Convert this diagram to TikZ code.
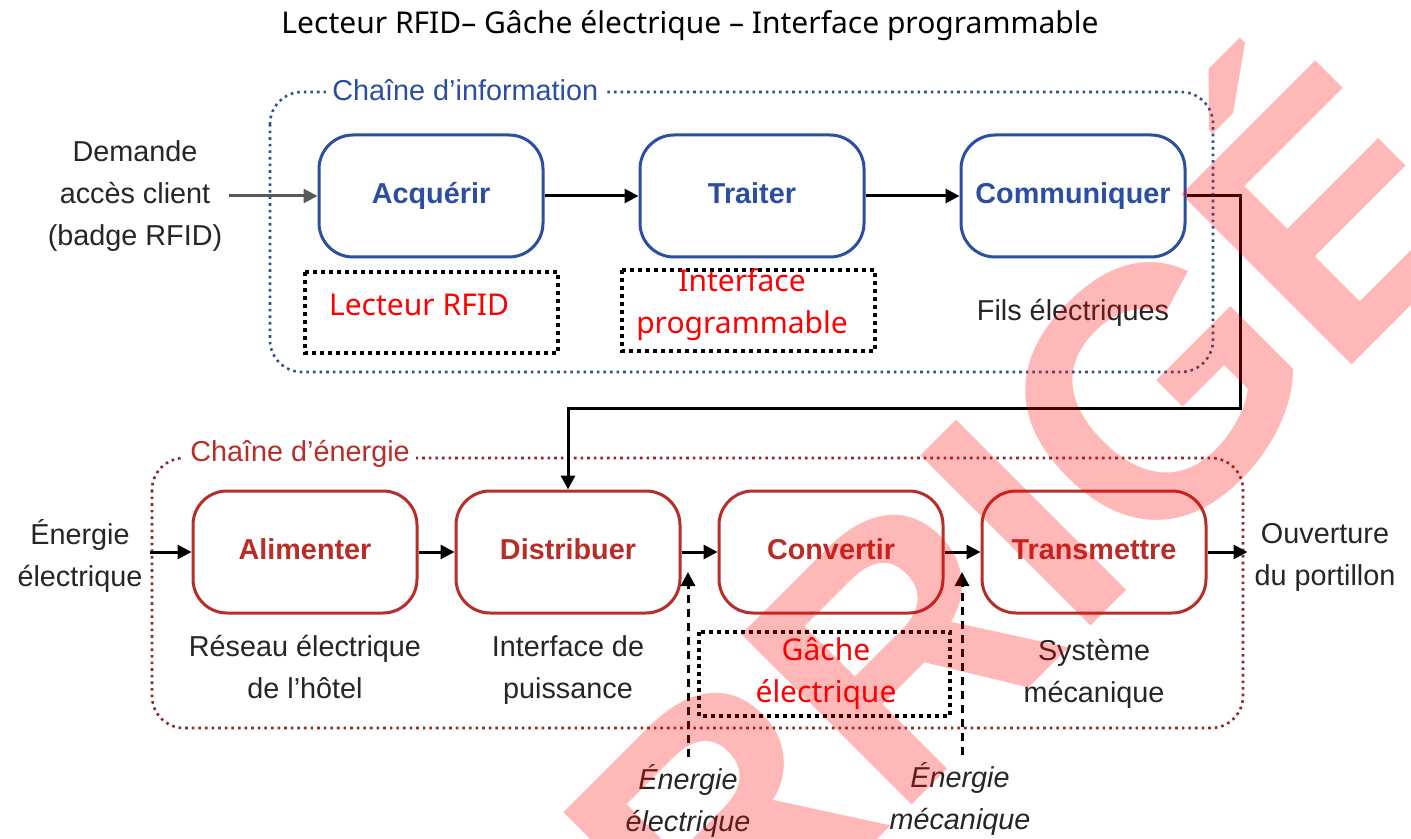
\documentclass[tikz,border=0pt]{standalone}
\usepackage{fontspec}
\setmainfont{Liberation Sans}
\newfontfamily\plexfont{Noto Sans}
\usetikzlibrary{arrows.meta,positioning,calc}

\definecolor{infoblue}{RGB}{44,78,160}
\definecolor{infodot}{RGB}{50,80,140}
\definecolor{enerred}{RGB}{185,45,40}
\definecolor{enerdot}{RGB}{140,40,40}

\tikzset{
  >={Triangle[length=7pt,width=7pt]},
  bloc/.style={rounded corners=17pt, line width=1.5pt, minimum width=112pt, minimum height=61pt, text height=10.5pt, text depth=3pt, font=\bfseries\fontsize{14.4}{16}\selectfont},
  blocinfo/.style={bloc, draw=infoblue, text=infoblue},
  blocener/.style={bloc, draw=enerred, text=enerred},
  chaine/.style={dotted, line width=1.3pt, rounded corners=16pt},
  cadre/.style={draw, line width=1.6pt, dash pattern=on 2pt off 2pt},
  support/.style={align=center, font=\fontsize{14.4}{21}\selectfont, text=black!85},
  rouge/.style={align=center, text=red, font=\plexfont\fontsize{15}{21}\selectfont},
  fleche/.style={->, line width=1.5pt},
}

\begin{document}
\begin{tikzpicture}[x=0.5pt,y=-0.5pt]

  \useasboundingbox (0,0) rectangle (1411,839);
  \fill[white] (0,0) rectangle (1411,839);

  \node[font=\plexfont\fontsize{15}{18}\selectfont] (titre) at (690,26) {Lecteur RFID– Gâche électrique – Interface programmable};

  % chaine d'information
  \draw[chaine, draw=infodot] (270,92) rectangle (1213,372);
  \node[fill=white, text=infoblue, anchor=west, inner sep=3pt, font=\fontsize{14.4}{16}\selectfont] (labinfo) at (326,90) {Chaîne d’information};

  \node[blocinfo] (acq) at (431,196) {Acquérir};
  \node[blocinfo, right=47pt of acq] (tra) {Traiter};
  \node[blocinfo, right=47pt of tra] (com) {Communiquer};

  \draw[cadre] (305,272) rectangle (558,353);
  \draw[cadre] (622,270) rectangle (875,351);
  \node[rouge] (lecteur) at (419,305) {Lecteur RFID};
  \node[rouge] (interface) at (742,305) {Interface\\programmable};
  \node[support, below=17pt of com] (fils) {Fils électriques};

  \node[support] (demande) at (135,196) {Demande\\accès client\\(badge RFID)};
  \draw[fleche, draw=black!65] (demande) -- (acq);
  \foreach \a/\b in {acq/tra,tra/com}{
    \draw[fleche] (\a) -- (\b);
  }

  % chaine d'energie
  \draw[chaine, draw=enerdot] (152,458) rectangle (1243,728);
  \node[fill=white, text=enerred, anchor=west, inner sep=3pt, font=\fontsize{14.4}{16}\selectfont] (labener) at (184,454) {Chaîne d’énergie};

  \node[blocener] (ali) at (305,552) {Alimenter};
  \node[blocener, right=18pt of ali] (dis) {Distribuer};
  \node[blocener, right=18pt of dis] (conv) {Convertir};
  \node[blocener, right=18pt of conv] (trans) {Transmettre};

  \node[support, below=7pt of ali] (reseau) {Réseau électrique\\de l’hôtel};
  \node[support, below=7pt of dis] (puiss) {Interface de\\puissance};
  \node[support, below=9pt of trans] (meca) {Système\\mécanique};
  \draw[cadre] (699,632) rectangle (950,716);
  \node[rouge] (gache) at (826,674) {Gâche\\électrique};

  \node[support] (eelec) at (80,556) {Énergie\\électrique};
  \node[support] (ouv) at (1325,557) {Ouverture\\du portillon};
  \draw[fleche] (eelec.east |- ali) -- (ali);
  \draw[fleche] (trans) -- (trans -| ouv.west);
  \foreach \a/\b in {ali/dis,dis/conv,conv/trans}{
    \draw[fleche] (\a) -- (\b);
  }

  \coordinate (k1) at (1240,408);
  \draw[fleche] (com.east) -| (k1) -| (dis.north);

  \node[support, font=\itshape\fontsize{14.4}{21}\selectfont] (eebas) at (688,801) {Énergie\\électrique};
  \node[support, font=\itshape\fontsize{14.4}{21}\selectfont] (embas) at (960,799) {Énergie\\mécanique};
  \coordinate (eeh) at (688,572);
  \coordinate (emh) at (962,572);
  \draw[fleche, dash pattern=on 4pt off 3pt] (eebas.north) -- (eeh);
  \draw[fleche, dash pattern=on 4pt off 3pt] (embas.north -| emh) -- (emh);

  \node[rotate=45, text=red, text opacity=0.28, font=\bfseries\fontsize{175}{175}\selectfont] (corrige) at (815,685) {CORRIGÉ};

\end{tikzpicture}
\end{document}
